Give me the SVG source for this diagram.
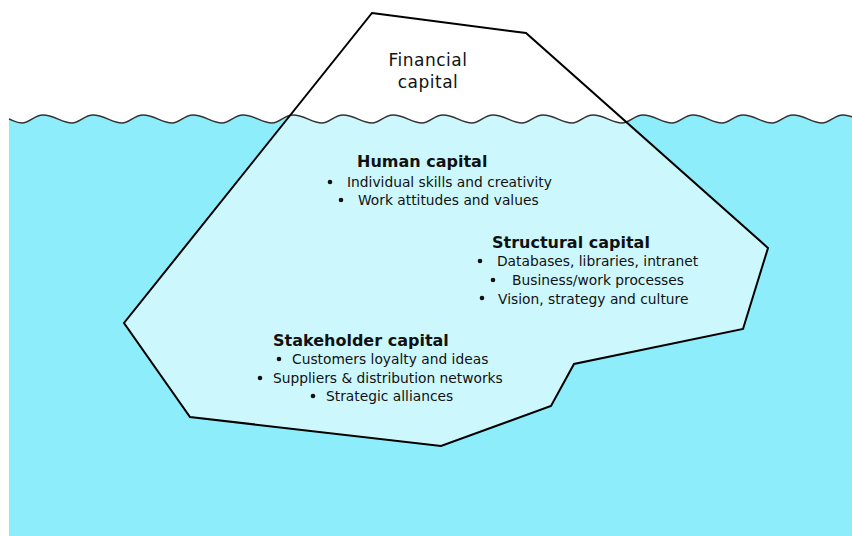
<svg xmlns="http://www.w3.org/2000/svg" width="852" height="536" viewBox="0 0 852 536">
<style>
.head{font-family:"DejaVu Sans",Verdana,sans-serif;font-size:16px;font-weight:bold;fill:#111}
.fin{font-family:"DejaVu Sans",Verdana,sans-serif;font-size:17px;fill:#111;letter-spacing:0.5px}
.body{font-family:"DejaVu Sans",Verdana,sans-serif;font-size:13.8px;fill:#111}
.dot{fill:#111}
</style>
<defs>
<path id="wave" d="M9,119 C14,121 17,123 22,123 c8,0 12,-8 21,-8 c11,0 19,8 29,8 c8,0 12,-8 21,-8 c11,0 19,8 29,8 c8,0 12,-8 21,-8 c11,0 19,8 29,8 c8,0 12,-8 21,-8 c11,0 19,8 29,8 c8,0 12,-8 21,-8 c11,0 19,8 29,8 c8,0 12,-8 21,-8 c11,0 19,8 29,8 c8,0 12,-8 21,-8 c11,0 19,8 29,8 c8,0 12,-8 21,-8 c11,0 19,8 29,8 c8,0 12,-8 21,-8 c11,0 19,8 29,8 c8,0 12,-8 21,-8 c11,0 19,8 29,8 c8,0 12,-8 21,-8 c11,0 19,8 29,8 c8,0 12,-8 21,-8 c11,0 19,8 29,8 c8,0 12,-8 21,-8 c11,0 19,8 29,8 c8,0 12,-8 21,-8 c11,0 19,8 29,8 c8,0 12,-8 21,-8 c11,0 19,8 29,8 c8,0 12,-8 21,-8 c11,0 19,8 29,8 c8,0 12,-8 21,-8 c11,0 19,8 29,8"/>
<clipPath id="below">
<path d="M9,119 C14,121 17,123 22,123 c8,0 12,-8 21,-8 c11,0 19,8 29,8 c8,0 12,-8 21,-8 c11,0 19,8 29,8 c8,0 12,-8 21,-8 c11,0 19,8 29,8 c8,0 12,-8 21,-8 c11,0 19,8 29,8 c8,0 12,-8 21,-8 c11,0 19,8 29,8 c8,0 12,-8 21,-8 c11,0 19,8 29,8 c8,0 12,-8 21,-8 c11,0 19,8 29,8 c8,0 12,-8 21,-8 c11,0 19,8 29,8 c8,0 12,-8 21,-8 c11,0 19,8 29,8 c8,0 12,-8 21,-8 c11,0 19,8 29,8 c8,0 12,-8 21,-8 c11,0 19,8 29,8 c8,0 12,-8 21,-8 c11,0 19,8 29,8 c8,0 12,-8 21,-8 c11,0 19,8 29,8 c8,0 12,-8 21,-8 c11,0 19,8 29,8 c8,0 12,-8 21,-8 c11,0 19,8 29,8 c8,0 12,-8 21,-8 c11,0 19,8 29,8 c8,0 12,-8 21,-8 c11,0 19,8 29,8 V536 H9 Z"/>
</clipPath>
<polygon id="bergshape" points="372,13 526,33 768,248 743,329 574,364 551,406 441,446 190,417 124,323"/>
</defs>
<rect width="852" height="536" fill="#ffffff"/>
<g id="water">
<rect x="9" y="100" width="843" height="436" fill="#8eedfb" clip-path="url(#below)"/>
</g>
<g id="iceberg">
<use href="#bergshape" fill="#ffffff"/>
<use href="#bergshape" fill="#ccf8fd" clip-path="url(#below)"/>
<use href="#wave" fill="none" stroke="#333333" stroke-width="1.5"/>
<use href="#bergshape" fill="none" stroke="#000000" stroke-width="2" stroke-linejoin="miter"/>
</g>
<g id="financial">
<text class="fin" x="428" y="66" text-anchor="middle">Financial</text>
<text class="fin" x="428" y="88" text-anchor="middle">capital</text>
</g>
<g id="human">
<text class="head" x="357" y="167">Human capital</text>
<circle class="dot" cx="330" cy="182" r="2.3"/>
<text class="body" x="347" y="187">Individual skills and creativity</text>
<circle class="dot" cx="341" cy="200" r="2.3"/>
<text class="body" x="358" y="205">Work attitudes and values</text>
</g>
<g id="structural">
<text class="head" x="492" y="248">Structural capital</text>
<circle class="dot" cx="480" cy="261" r="2.3"/>
<text class="body" x="497" y="266">Databases, libraries, intranet</text>
<circle class="dot" cx="493" cy="280" r="2.3"/>
<text class="body" x="512" y="285">Business/work processes</text>
<circle class="dot" cx="482" cy="298" r="2.3"/>
<text class="body" x="498" y="304">Vision, strategy and culture</text>
</g>
<g id="stakeholder">
<text class="head" x="273" y="346">Stakeholder capital</text>
<circle class="dot" cx="279" cy="359" r="2.3"/>
<text class="body" x="292" y="364">Customers loyalty and ideas</text>
<circle class="dot" cx="260" cy="378" r="2.3"/>
<text class="body" x="273" y="383">Suppliers &amp; distribution networks</text>
<circle class="dot" cx="313" cy="396" r="2.3"/>
<text class="body" x="326" y="401">Strategic alliances</text>
</g>
</svg>
